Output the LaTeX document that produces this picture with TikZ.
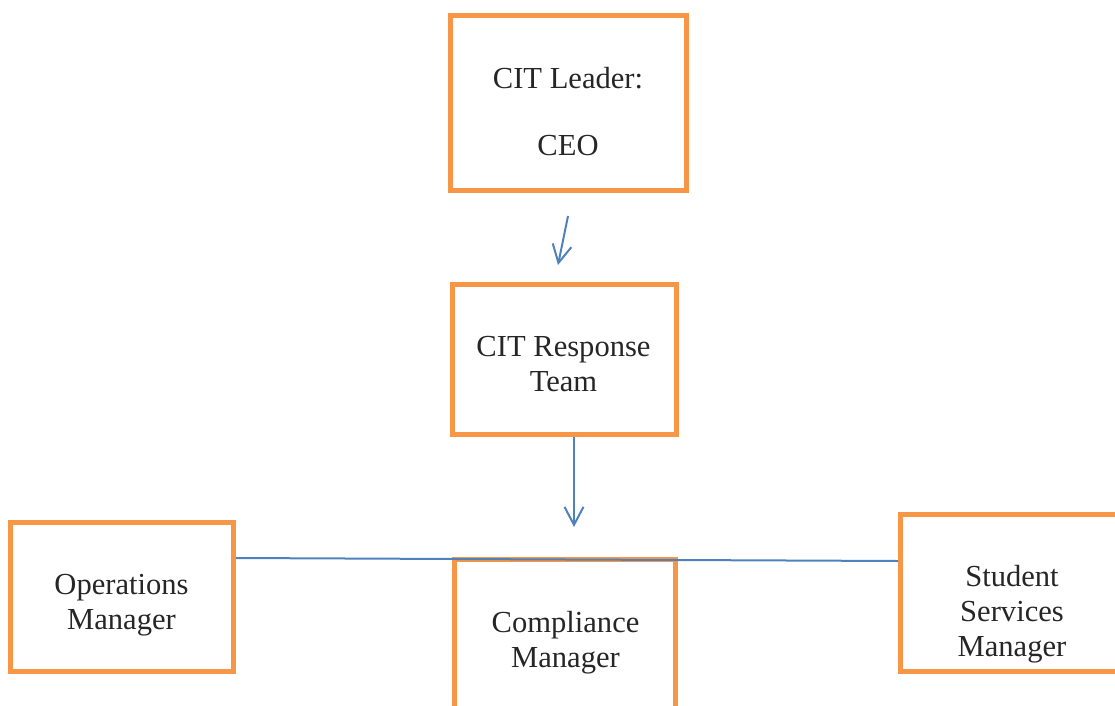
\documentclass[tikz,border=0pt]{standalone}
\usepackage{fontspec}
\setmainfont{Liberation Serif}
\usetikzlibrary{arrows.meta}

\definecolor{citorange}{RGB}{247,150,70}
\definecolor{citblue}{RGB}{79,129,189}

\begin{document}
\begin{tikzpicture}[x=0.02cm, y=-0.02cm,
  box/.style={rectangle, draw=citorange, line width=0.1cm, inner sep=0pt},
  txt/.style={align=center, inner sep=0pt, text=black!85,
              font=\fontsize{17.4pt}{19.9pt}\selectfont},
  link/.style={draw=citblue, line width=0.04cm},
  tip/.style={-{Straight Barb[length=0.36cm, width=0.38cm]}}]

\useasboundingbox (0,0) rectangle (1115,706);
\clip (0,0) rectangle (1115,706);

% boxes
\node[box, minimum width=4.72cm, minimum height=3.5cm]  (leader)     at (568.5,103)   {};
\node[box, minimum width=4.48cm, minimum height=3.0cm]  (response)   at (564.5,359.5) {};
\node[box, minimum width=4.46cm, minimum height=2.98cm] (ops)        at (122,597)     {};
\node[box, minimum width=4.42cm, minimum height=3.3cm]  (compliance) at (565,642)     {};
\node[box, minimum width=4.5cm,  minimum height=3.14cm] (student)    at (1013,593)    {};

% texts
\node[txt] (leadertxt)     at (568,111.5)   {CIT Leader:\\[18.7pt]CEO};
\node[txt] (responsetxt)   at (563.5,364.5) {CIT Response\\Team};
\node[txt] (opstxt)        at (121.5,605)   {Operations\\Manager};
\node[txt] (compliancetxt) at (565.5,643)   {Compliance\\Manager};
\node[txt] (studenttxt)    at (1012,614)    {Student\\Services\\Manager};

% connectors
\coordinate (a1s) at (568,216);
\coordinate (a1e) at (558,265);
\coordinate (a2s) at (574,437);
\coordinate (a2e) at (574,527);
\coordinate (l1)  at (236,558);
\coordinate (l2)  at (898,561);

\draw[link, tip] (a1s) -- (a1e);
\draw[link, tip] (a2s) -- (a2e);
\draw[link] (l1) -- (l2);
\end{tikzpicture}
\end{document}
